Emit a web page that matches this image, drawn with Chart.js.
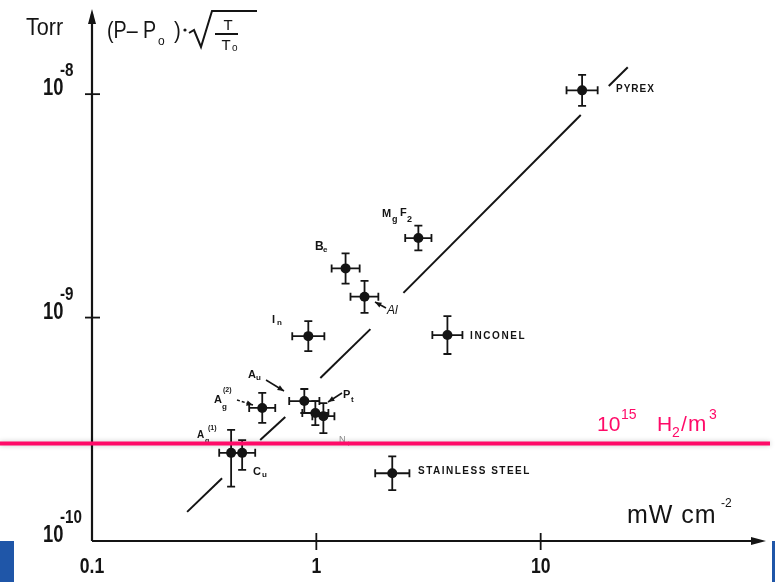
<!DOCTYPE html>
<html>
<head>
<meta charset="utf-8">
<script src="https://cdn.jsdelivr.net/npm/chart.js@4/dist/chart.umd.min.js"></script>
<style>
  html, body { margin: 0; padding: 0; background: #fff; overflow: hidden; }
  #wrap { width: 775px; height: 582px; position: relative; }
</style>
</head>
<body>
<div id="wrap"><canvas id="chart" width="775" height="582"></canvas></div>
<script>
// values (x: mW cm^-2, y: Torr)
const materials = ["PYREX", "MgF2", "Be", "Al", "In", "INCONEL", "Au", "Ag(2)", "Pt", "Pt", "Ag(1)", "Cu", "Stainless steel"];
const powerX = [15.3, 2.85, 1.35, 1.64, 0.921, 3.84, 0.884, 0.574, 0.99, 1.075, 0.417, 0.467, 2.18];
const pressureY = [1.04e-8, 2.27e-9, 1.66e-9, 1.24e-9, 8.26e-10, 8.35e-10, 4.23e-10, 3.94e-10, 3.74e-10, 3.62e-10, 2.48e-10, 2.48e-10, 2.01e-10];
const powerLow = [13.04, 2.49, 1.17, 1.42, 0.781, 3.29, 0.757, 0.502, 0.866, 0.96, 0.369, 0.409, 1.83];
const powerHigh = [17.95, 3.26, 1.56, 1.89, 1.086, 4.48, 1.032, 0.656, 1.132, 1.204, 0.472, 0.534, 2.6];
const pressureLow = [8.87e-9, 2.0e-9, 1.42e-9, 1.05e-9, 7.08e-10, 6.87e-10, 3.74e-10, 3.38e-10, 3.3e-10, 3.04e-10, 1.75e-10, 2.08e-10, 1.69e-10];
const pressureHigh = [1.22e-8, 2.58e-9, 1.94e-9, 1.46e-9, 9.64e-10, 1.015e-9, 4.79e-10, 4.6e-10, 4.23e-10, 4.14e-10, 3.14e-10, 2.83e-10, 2.39e-10];

// broken fit line, drawn as separate pieces
const fitX = [[0.2655, 0.38], [0.562, 0.727], [1.042, 1.742], [2.445, 15.09], [20.12, 24.45]];
const fitY = [[1.35e-10, 1.91e-10], [2.83e-10, 3.59e-10], [5.36e-10, 8.88e-10], [1.29e-9, 8.06e-9], [1.087e-8, 1.32e-8]];

const xTicks = [0.1, 1, 10];
const xTickLabels = ["0.1", "1", "10"];
const yTicks = [1e-10, 1e-9, 1e-8];
const yTickExps = ["-10", "-9", "-8"];

const h2Level = 2.73e-10; // 10^15 H2/m3 reference

const INK = "#141414";
const PINK = "#ff0a68";
const FONT = "'Liberation Sans', Arial, sans-serif";

function txt(ctx, s, x, y, size, o) {
  o = o || {};
  ctx.save();
  ctx.font = (o.style || "") + " " + (o.weight || "normal") + " " + size + "px " + FONT;
  ctx.fillStyle = o.color || INK;
  ctx.textBaseline = "alphabetic";
  ctx.textAlign = o.align || "left";
  if (o.spacing) ctx.letterSpacing = o.spacing;
  ctx.translate(x, y);
  ctx.scale(o.sx || 1, 1);
  ctx.fillText(s, 0, 0);
  ctx.restore();
}

function line(ctx, x1, y1, x2, y2, w, color) {
  ctx.save();
  ctx.strokeStyle = color || INK;
  ctx.lineWidth = w || 2;
  ctx.beginPath();
  ctx.moveTo(x1, y1);
  ctx.lineTo(x2, y2);
  ctx.stroke();
  ctx.restore();
}

function arrow(ctx, x1, y1, x2, y2, dashed) {
  ctx.save();
  if (dashed) ctx.setLineDash([3, 2]);
  line(ctx, x1, y1, x2, y2, 1.5);
  ctx.restore();
  const a = Math.atan2(y2 - y1, x2 - x1);
  ctx.save();
  ctx.fillStyle = INK;
  ctx.beginPath();
  ctx.moveTo(x2, y2);
  ctx.lineTo(x2 - 7 * Math.cos(a - 0.4), y2 - 7 * Math.sin(a - 0.4));
  ctx.lineTo(x2 - 7 * Math.cos(a + 0.4), y2 - 7 * Math.sin(a + 0.4));
  ctx.closePath();
  ctx.fill();
  ctx.restore();
}

const axesPlugin = {
  id: "axes",
  beforeDatasetsDraw(chart) {
    const { ctx, chartArea: a, scales: { x, y } } = chart;
    const x0 = x.getPixelForValue(xTicks[0]);
    const y0 = y.getPixelForValue(yTicks[0]);

    // axes with arrow heads
    line(ctx, x0, y0, x0, 14, 2.2);
    line(ctx, x0, y0, a.right - 6, y0, 2.2);
    ctx.save();
    ctx.fillStyle = INK;
    ctx.beginPath();
    ctx.moveTo(x0, 9); ctx.lineTo(x0 - 4, 24); ctx.lineTo(x0 + 4, 24); ctx.closePath(); ctx.fill();
    ctx.beginPath();
    ctx.moveTo(a.right + 1, y0); ctx.lineTo(a.right - 14, y0 - 4); ctx.lineTo(a.right - 14, y0 + 4); ctx.closePath(); ctx.fill();
    ctx.restore();

    const bold = { weight: "bold", sx: 0.8 };
    xTicks.forEach((v, i) => {
      const px = x.getPixelForValue(v);
      if (i > 0) line(ctx, px, y0 - 8, px, y0 + 9, 1.8);
      txt(ctx, xTickLabels[i], px, y0 + 32, 22, { weight: "bold", sx: 0.8, align: "center" });
    });
    yTicks.forEach((v, i) => {
      const py = y.getPixelForValue(v);
      if (i > 0) line(ctx, x0 - 7, py, x0 + 8, py, 1.8);
      txt(ctx, "10", x0 - 49, py + 1, 23, bold);
      txt(ctx, yTickExps[i], x0 - 32, py - 18, 19, bold);
    });

    // axis titles
    txt(ctx, "Torr", 26, 35, 24, { sx: 0.9 });
    txt(ctx, "(P\u2013 P", 107, 38, 24, { sx: 0.82 });
    txt(ctx, "o", 158, 45, 12);
    txt(ctx, ")", 174, 38, 24, { sx: 0.85 });
    ctx.save();
    ctx.fillStyle = INK;
    ctx.beginPath(); ctx.arc(185, 30, 1.6, 0, Math.PI * 2); ctx.fill();
    ctx.strokeStyle = INK; ctx.lineWidth = 2; ctx.lineJoin = "miter";
    ctx.beginPath();
    ctx.moveTo(189, 33); ctx.lineTo(194, 30); ctx.lineTo(201, 47); ctx.lineTo(212, 11); ctx.lineTo(257, 11);
    ctx.stroke();
    ctx.restore();
    txt(ctx, "T", 228, 30, 15, { align: "center" });
    line(ctx, 215, 34, 238, 34, 2);
    txt(ctx, "T", 226, 50, 15, { align: "center" });
    txt(ctx, "o", 232, 51, 10);

    txt(ctx, "mW cm", 627, 523, 25, { spacing: "1px" });
    txt(ctx, "-2", 721, 507, 12);
  },
  afterDatasetsDraw(chart) {
    const { ctx, scales: { x, y } } = chart;
    const cap = 4;
    ctx.save();
    ctx.strokeStyle = INK;
    ctx.lineWidth = 1.8;
    powerX.forEach((v, i) => {
      const px = x.getPixelForValue(v);
      const py = y.getPixelForValue(pressureY[i]);
      const xl = x.getPixelForValue(powerLow[i]);
      const xh = x.getPixelForValue(powerHigh[i]);
      const yl = y.getPixelForValue(pressureLow[i]);
      const yh = y.getPixelForValue(pressureHigh[i]);
      ctx.beginPath();
      ctx.moveTo(xl, py); ctx.lineTo(xh, py);
      ctx.moveTo(xl, py - cap); ctx.lineTo(xl, py + cap);
      ctx.moveTo(xh, py - cap); ctx.lineTo(xh, py + cap);
      ctx.moveTo(px, yl); ctx.lineTo(px, yh);
      ctx.moveTo(px - cap, yl); ctx.lineTo(px + cap, yl);
      ctx.moveTo(px - cap, yh); ctx.lineTo(px + cap, yh);
      ctx.stroke();
    });
    ctx.restore();

    // material labels
    const b = { weight: "bold" };
    txt(ctx, "PYREX", 616, 92, 10, { weight: "bold", spacing: "1px" });
    txt(ctx, "M", 382, 217, 11, b); txt(ctx, "g", 392, 222, 9, b);
    txt(ctx, "F", 400, 216, 11, b); txt(ctx, "2", 407, 222, 9, b);
    txt(ctx, "B", 315, 250, 12, b); txt(ctx, "e", 323, 252, 8, b);
    txt(ctx, "Al", 387, 314, 12, { style: "italic" });
    arrow(ctx, 386, 308, 375, 302);
    txt(ctx, "I", 272, 323, 11, b); txt(ctx, "n", 277, 325, 8, b);
    txt(ctx, "INCONEL", 470, 339, 10, { weight: "bold", spacing: "1.6px" });
    txt(ctx, "A", 248, 378, 11, b); txt(ctx, "u", 256, 380, 8, b);
    arrow(ctx, 266, 380, 284, 391);
    txt(ctx, "A", 214, 403, 11, b); txt(ctx, "g", 222, 409, 8, b);
    txt(ctx, "(2)", 223, 392, 7, b);
    arrow(ctx, 237, 400, 253, 405, true);
    txt(ctx, "P", 343, 398, 11, b); txt(ctx, "t", 351, 402, 8, b);
    arrow(ctx, 342, 393, 328, 402);
    txt(ctx, "A", 197, 438, 10, b); txt(ctx, "g", 205, 443, 7, b);
    txt(ctx, "(1)", 208, 430, 7, b);
    txt(ctx, "C", 253, 475, 11, b); txt(ctx, "u", 262, 477, 8, b);
    txt(ctx, "N", 339, 442, 9, { color: "#8a8a8a" }); txt(ctx, "i", 348, 446, 7, { color: "#8a8a8a" });
    txt(ctx, "STAINLESS STEEL", 418, 474, 10, { weight: "bold", spacing: "1.5px" });

    // 10^15 H2/m3 reference line across the whole picture
    const hy = y.getPixelForValue(h2Level);
    ctx.save();
    ctx.shadowColor = "rgba(0,0,0,0.22)";
    ctx.shadowBlur = 5;
    line(ctx, 0, hy, 770, hy, 4, PINK);
    ctx.restore();
    const pk = { color: PINK };
    txt(ctx, "10", 597, 431, 21, pk);
    txt(ctx, "15", 621, 419, 14, pk);
    txt(ctx, "H", 657, 431, 21, pk);
    txt(ctx, "2", 672, 437, 14, pk);
    txt(ctx, "/", 681, 431, 21, pk);
    txt(ctx, "m", 688, 431, 22, pk);
    txt(ctx, "3", 709, 419, 14, pk);

    // blue slide edges
    ctx.save();
    ctx.fillStyle = "#1f56a8";
    ctx.fillRect(0, 541, 14, 41);
    ctx.fillRect(772, 541, 3, 41);
    ctx.restore();
  }
};

const datasets = [{
  label: "materials",
  data: powerX.map((v, i) => ({ x: v, y: pressureY[i] })),
  pointRadius: 5,
  pointBackgroundColor: INK,
  pointBorderWidth: 0,
  showLine: false,
  order: 0
}];
fitX.forEach((seg, i) => {
  datasets.push({
    label: "fit " + i,
    data: seg.map((v, j) => ({ x: v, y: fitY[i][j] })),
    showLine: true,
    borderColor: INK,
    borderWidth: 2,
    pointRadius: 0,
    order: 1
  });
});

new Chart(document.getElementById("chart"), {
  type: "scatter",
  data: { datasets },
  options: {
    responsive: false,
    animation: false,
    devicePixelRatio: 1,
    layout: { padding: { left: 92, right: 10, top: 8, bottom: 41 } },
    plugins: { legend: { display: false }, tooltip: { enabled: false } },
    scales: {
      x: { type: "logarithmic", min: 0.1, max: 100, display: false },
      y: { type: "logarithmic", min: 1e-10, max: 2.43e-8, display: false }
    }
  },
  plugins: [axesPlugin]
});
</script>
</body>
</html>
